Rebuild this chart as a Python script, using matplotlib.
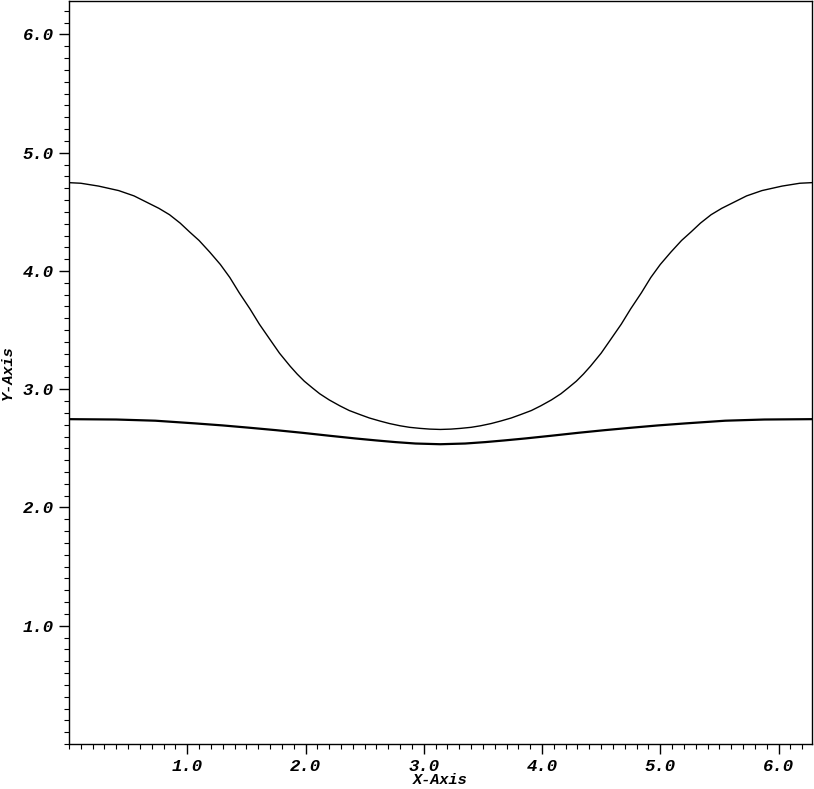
import matplotlib
matplotlib.use("Agg")
import matplotlib.pyplot as plt
from matplotlib.ticker import MultipleLocator, FormatStrFormatter

# -----------------------------------------------------------------
# Datos
# -----------------------------------------------------------------
x_sup = [0.00, 0.10, 0.25, 0.42, 0.55, 0.67, 0.76, 0.85, 0.94, 1.02, 1.10,
         1.19, 1.28, 1.36, 1.44, 1.53, 1.61, 1.70, 1.78, 1.87, 1.93, 1.99,
         2.06, 2.12, 2.20, 2.29, 2.37, 2.46, 2.54, 2.63, 2.71, 2.80, 2.88,
         2.97, 3.05, 3.14,
         3.23, 3.31, 3.40, 3.48, 3.57, 3.65, 3.74, 3.82, 3.91, 3.99, 4.08,
         4.16, 4.22, 4.29, 4.35, 4.41, 4.50, 4.58, 4.67, 4.75, 4.84, 4.92,
         5.00, 5.09, 5.18, 5.26, 5.34, 5.43, 5.52, 5.61, 5.73, 5.86, 6.03,
         6.18, 6.28]
y_sup = [4.747, 4.742, 4.718, 4.680, 4.635, 4.575, 4.530, 4.476, 4.405, 4.330,
         4.258, 4.160, 4.055, 3.945, 3.815, 3.680, 3.550, 3.420, 3.305, 3.195,
         3.128, 3.068, 3.010, 2.962, 2.910, 2.860, 2.820, 2.786, 2.757, 2.731,
         2.710, 2.691, 2.678, 2.669, 2.663, 2.660,
         2.663, 2.669, 2.678, 2.691, 2.710, 2.731, 2.757, 2.786, 2.820, 2.860,
         2.910, 2.962, 3.010, 3.068, 3.128, 3.195, 3.305, 3.420, 3.550, 3.680,
         3.815, 3.945, 4.055, 4.160, 4.258, 4.330, 4.405, 4.476, 4.530, 4.575,
         4.635, 4.680, 4.718, 4.742, 4.747]

x_inf = [0.00, 0.40, 0.73, 1.07, 1.30, 1.52, 1.75, 1.97, 2.20, 2.42, 2.60,
         2.76, 2.93, 3.14, 3.35, 3.52, 3.68, 3.86, 4.08, 4.31, 4.53, 4.76,
         4.98, 5.21, 5.55, 5.88, 6.28]
y_inf = [2.747, 2.744, 2.734, 2.711, 2.694, 2.675, 2.654, 2.632, 2.607, 2.584,
         2.567, 2.553, 2.541, 2.535, 2.541, 2.553, 2.567, 2.584, 2.607, 2.632,
         2.654, 2.675, 2.694, 2.711, 2.734, 2.744, 2.747]

x_lim = (0.0, 6.2832)
y_lim = (0.0, 6.2832)
ticks = [1.0, 2.0, 3.0, 4.0, 5.0, 6.0]

# -----------------------------------------------------------------
# Figura
# -----------------------------------------------------------------
fuente = dict(family="Liberation Mono", weight="bold", style="italic", size=12.5)
fuente_ejes = dict(family="Liberation Mono", weight="bold", style="italic", size=11)

fig = plt.figure(figsize=(8.14, 7.89), dpi=100)
ax = fig.add_axes([69 / 814, 45 / 789, (812 - 69) / 814, (744 - 1) / 789])

ax.plot(x_sup, y_sup, color="black", linewidth=1.0)
ax.plot(x_inf, y_inf, color="black", linewidth=1.6)

ax.set_xlim(*x_lim)
ax.set_ylim(*y_lim)
ax.set_xticks(ticks)
ax.set_yticks(ticks)
ax.xaxis.set_minor_locator(MultipleLocator(0.1))
ax.yaxis.set_minor_locator(MultipleLocator(0.1))
ax.xaxis.set_major_formatter(FormatStrFormatter("%.1f"))
ax.yaxis.set_major_formatter(FormatStrFormatter("%.1f"))

ax.tick_params(which="major", direction="out", length=7, width=1.0, pad=4)
ax.tick_params(which="minor", direction="out", length=3.5, width=0.8)
for lab in ax.get_xticklabels() + ax.get_yticklabels():
    lab.set_fontproperties(matplotlib.font_manager.FontProperties(**fuente))

for s in ax.spines.values():
    s.set_linewidth(1.0)

ax.set_xlabel("X-Axis", fontdict=fuente_ejes, labelpad=0, va="bottom")
ax.set_ylabel("Y-Axis", fontdict=fuente_ejes, labelpad=0)
ax.xaxis.set_label_coords(0.5, -0.0585)
ax.yaxis.set_label_coords(-0.073, 0.5)

fig.savefig("out.png", dpi=100)
